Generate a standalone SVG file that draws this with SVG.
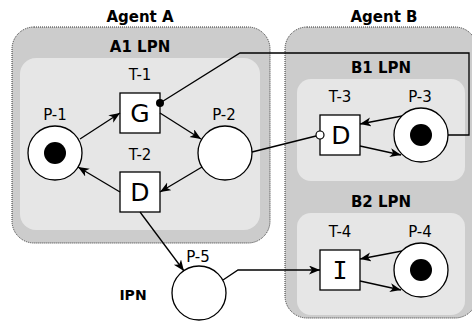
<svg xmlns="http://www.w3.org/2000/svg" width="472" height="322" viewBox="0 0 472 322">
<style>
.outer{fill:#cccccc;stroke:#333333;stroke-width:1;stroke-dasharray:1 1}
.inner{fill:#e6e6e6;stroke:none}
.title{font-family:"DejaVu Sans",sans-serif;font-weight:bold;font-size:15px;text-anchor:middle;fill:#000}
.lbl{font-family:"DejaVu Sans",sans-serif;font-size:15px;text-anchor:middle;fill:#000}
.big{font-family:"DejaVu Sans",sans-serif;font-size:25px;text-anchor:middle;fill:#000}
.place{fill:#fff;stroke:#000;stroke-width:1.3}
.trans{fill:#fff;stroke:#000;stroke-width:1.3}
.tok{fill:#000}
.edge{fill:none;stroke:#000;stroke-width:1.3}
.arr{marker-end:url(#ah)}
</style>
<defs>
<marker id="ah" markerUnits="userSpaceOnUse" markerWidth="12" markerHeight="10" refX="11" refY="4.5" orient="auto">
<path d="M0,0 L11,4.5 L0,9 L3,4.5 Z" fill="#000"/>
</marker>
</defs>

<g id="agentA">
<rect class="outer" x="12" y="27" width="258" height="216" rx="22"/>
<text class="title" x="140" y="22">Agent A</text>
</g>
<g id="a1lpn">
<rect class="inner" x="20" y="58" width="240" height="172" rx="16"/>
<text class="title" x="140" y="52">A1 LPN</text>
</g>
<g id="agentB">
<rect class="outer" x="285" y="27" width="192" height="291" rx="22"/>
<text class="title" x="384" y="22">Agent B</text>
</g>
<g id="b1lpn">
<rect class="inner" x="297" y="79" width="168" height="102" rx="14"/>
<text class="title" x="381" y="73">B1 LPN</text>
</g>
<g id="b2lpn">
<rect class="inner" x="297" y="213" width="168" height="102" rx="14"/>
<text class="title" x="381" y="207">B2 LPN</text>
</g>
<g id="ipn">
<text class="title" x="133" y="300" style="font-size:14px">IPN</text>
</g>

<g id="P-1">
<circle class="place" cx="55" cy="153" r="27"/>
<circle class="tok" cx="55" cy="153" r="11"/>
<text class="lbl" x="55" y="120">P-1</text>
</g>
<g id="P-2">
<circle class="place" cx="225" cy="153" r="27"/>
<text class="lbl" x="224" y="120">P-2</text>
</g>
<g id="P-3">
<circle class="place" cx="421" cy="135" r="27"/>
<circle class="tok" cx="421" cy="135" r="11"/>
<text class="lbl" x="420" y="102">P-3</text>
</g>
<g id="P-4">
<circle class="place" cx="421" cy="270" r="27"/>
<circle class="tok" cx="421" cy="270" r="11"/>
<text class="lbl" x="420" y="237">P-4</text>
</g>
<g id="P-5">
<circle class="place" cx="199" cy="293" r="27"/>
<text class="lbl" x="198" y="262">P-5</text>
</g>
<g id="T-1">
<rect class="trans" x="120" y="93" width="40" height="40"/>
<text class="big" x="140" y="122">G</text>
<text class="lbl" x="140" y="80">T-1</text>
</g>
<g id="T-2">
<rect class="trans" x="120" y="172" width="40" height="40"/>
<text class="big" x="140" y="201">D</text>
<text class="lbl" x="140" y="160">T-2</text>
</g>
<g id="T-3">
<rect class="trans" x="320" y="115" width="40" height="40"/>
<text class="big" x="341" y="144">D</text>
<text class="lbl" x="340" y="102">T-3</text>
</g>
<g id="T-4">
<rect class="trans" x="320" y="250" width="40" height="40"/>
<text class="big" x="340" y="279" style="font-family:'DejaVu Sans Mono',monospace">I</text>
<text class="lbl" x="340" y="237">T-4</text>
</g>

<g id="connectors">
<line class="edge arr" x1="80" y1="139" x2="120" y2="113"/>
<line class="edge arr" x1="160" y1="113" x2="201" y2="139"/>
<line class="edge arr" x1="202" y1="167" x2="160" y2="192"/>
<line class="edge arr" x1="120" y1="192" x2="78" y2="167"/>
<line class="edge arr" x1="140" y1="212" x2="184" y2="271"/>
<polyline class="edge arr" points="223,280 238,270 320,270"/>
<line class="edge arr" x1="402" y1="116" x2="360" y2="124"/>
<line class="edge arr" x1="360" y1="146" x2="401" y2="155"/>
<line class="edge arr" x1="402" y1="251" x2="360" y2="259"/>
<line class="edge arr" x1="360" y1="281" x2="401" y2="290"/>
<polyline class="edge" points="160,103 240,53 469,53 469,135 448,135"/>
<circle cx="160" cy="103" r="4" fill="#000"/>
<line class="edge" x1="252" y1="152" x2="316" y2="136"/>
<circle cx="320" cy="135" r="4" fill="#fff" stroke="#000" stroke-width="1.2"/>
</g>
</svg>
